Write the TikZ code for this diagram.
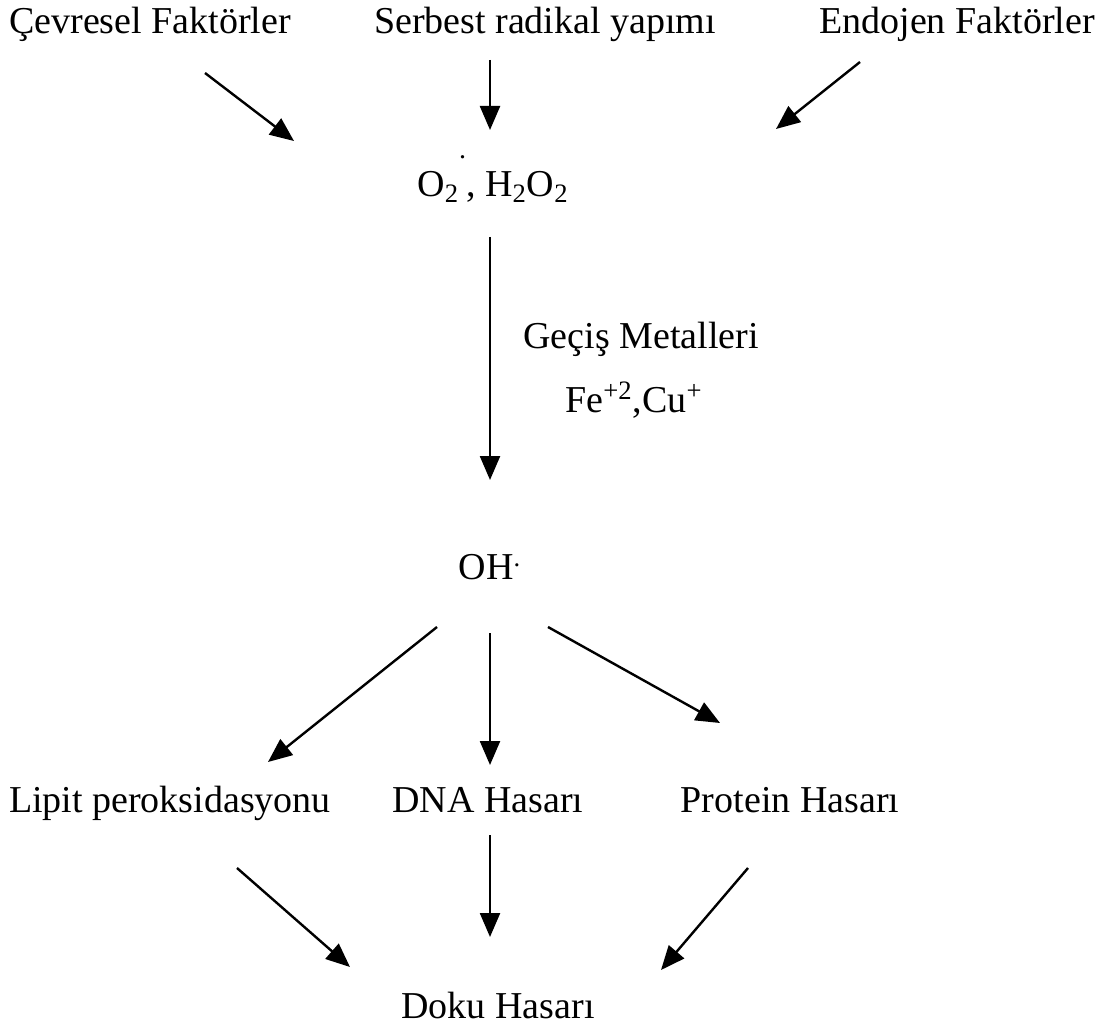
\documentclass[tikz,border=0pt]{standalone}
\usepackage{fontspec}
\setmainfont{Liberation Serif}
\usetikzlibrary{arrows.meta}

\begin{document}
\begin{tikzpicture}[x=0.5pt, y=-0.5pt, font=\fontsize{19}{22}\selectfont,
    lbl/.style={anchor=base, inner sep=0pt},
    arr/.style={line width=1.2pt, -{Triangle[length=12pt, width=10pt]}}]
    \useasboundingbox (0,0) rectangle (1101,1026);
    % labels
    \node[lbl] (cevre) at (150, 34) {Çevresel Faktörler};
    \node[lbl] (serb) at (545, 34) {Serbest radikal yapımı};
    \node[lbl] (endo) at (957, 34) {Endojen Faktörler};
    \node[lbl] (oksi) at (493, 197) {O\textsubscript{2}\raisebox{1.0em}{\fontsize{14}{14}\selectfont .}, H\textsubscript{2}O\textsubscript{2}};
    \node[lbl] (gecis) at (641, 348) {Geçiş Metalleri};
    \node[lbl] (metal) at (634, 412) {Fe\textsuperscript{+2},Cu\textsuperscript{+}};
    \node[lbl] (oh) at (490, 579) {OH\textsuperscript{.}};
    \node[lbl] (lipit) at (170, 812) {Lipit peroksidasyonu};
    \node[lbl] (dna) at (488, 812) {DNA Hasarı};
    \node[lbl] (prot) at (790, 812) {Protein Hasarı};
    \node[lbl] (doku) at (498, 1018) {Doku Hasarı};
    % arrow ends
    \coordinate (c1) at (205, 73);  \coordinate (c2) at (294, 141);
    \coordinate (s1) at (490, 60);  \coordinate (s2) at (490, 130);
    \coordinate (e1) at (860, 62);  \coordinate (e2) at (776, 129);
    \coordinate (o1) at (490, 237); \coordinate (o2) at (490, 480);
    \coordinate (h1) at (437, 627); \coordinate (h2) at (268, 762);
    \coordinate (h3) at (490, 633); \coordinate (h4) at (490, 765);
    \coordinate (h5) at (548, 627); \coordinate (h6) at (720, 723);
    \coordinate (l1) at (237, 868); \coordinate (l2) at (350, 967);
    \coordinate (d1) at (490, 835); \coordinate (d2) at (490, 937);
    \coordinate (p1) at (748, 868); \coordinate (p2) at (661, 970);
    % arrows
    \draw[arr] (c1) -- (c2);
    \draw[arr] (s1) -- (s2);
    \draw[arr] (e1) -- (e2);
    \draw[arr] (o1) -- (o2);
    \draw[arr] (h1) -- (h2);
    \draw[arr] (h3) -- (h4);
    \draw[arr] (h5) -- (h6);
    \draw[arr] (l1) -- (l2);
    \draw[arr] (d1) -- (d2);
    \draw[arr] (p1) -- (p2);
\end{tikzpicture}
\end{document}
